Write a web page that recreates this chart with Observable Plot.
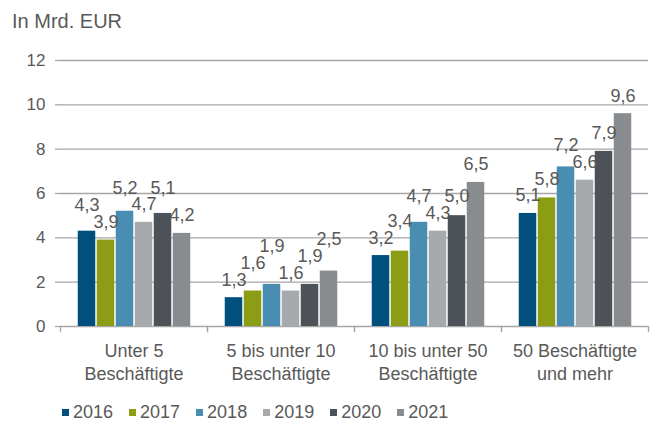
<!DOCTYPE html>
<html><head><meta charset="utf-8">
<script src="https://cdn.jsdelivr.net/npm/d3@7"></script>
<script src="https://cdn.jsdelivr.net/npm/@observablehq/plot@0.6"></script>
<style>
body{margin:0;background:#fff;font-family:"Liberation Sans",Arial,sans-serif;color:#595959;}
#title{height:40px;line-height:42px;font-size:20px;padding-left:12px;}
#legend{padding-left:62px;padding-top:23px;}
.lg-swatches,.lg-swatches-wrap{min-height:0 !important;line-height:18px !important;}
.lg-swatch{margin-right:16px !important;}
.lg-swatch > svg{margin-right:4px !important;}
</style></head><body>
<div id="title">In Mrd. EUR</div>
<div id="chart"></div>
<div id="legend"></div>
<script>
const categories = ["Unter 5\nBeschäftigte", "5 bis unter 10\nBeschäftigte", "10 bis unter 50\nBeschäftigte", "50 Beschäftigte\nund mehr"];
const years = ["2016", "2017", "2018", "2019", "2020", "2021"];
const v2016 = [4.3, 1.3, 3.2, 5.1];
const v2017 = [3.9, 1.6, 3.4, 5.8];
const v2018 = [5.2, 1.9, 4.7, 7.2];
const v2019 = [4.7, 1.6, 4.3, 6.6];
const v2020 = [5.1, 1.9, 5.0, 7.9];
const v2021 = [4.2, 2.5, 6.5, 9.6];
const yTicks = [0, 2, 4, 6, 8, 10, 12];
const colors = ["#004f7c", "#8c9c14", "#4a8db3", "#a7aaac", "#4c5257", "#898c8f"];

const series = [v2016, v2017, v2018, v2019, v2020, v2021];
const rows = [];
categories.forEach((c, ci) => years.forEach((yr, yi) => rows.push({category: c, year: yr, value: series[yi][ci]})));

// simple label collision avoidance (in data units)
const labelOffset = 0.8, labelH = 0.76;
categories.forEach(c => {
  const g = rows.filter(r => r.category === c);
  g.forEach(r => r.ly = r.value + labelOffset);
  for (let pass = 0; pass < 3; pass++) {
    for (let i = 0; i < g.length - 1; i++) {
      const a = g[i], b = g[i + 1];
      if (Math.abs(a.ly - b.ly) < labelH - 1e-9) {
        if (a.value > b.value) a.ly = b.ly + labelH; else b.ly = a.ly + labelH;
      }
    }
  }
});

const chart = Plot.plot({
  width: 651, height: 340,
  marginTop: 20, marginRight: 3, marginBottom: 54, marginLeft: 60,
  style: {fontFamily: "Liberation Sans, Arial, sans-serif", color: "#595959", background: "#fff", overflow: "visible"},
  fx: {domain: categories, padding: 0, label: null},
  x: {domain: years, paddingInner: 0, paddingOuter: 0.8, axis: null},
  y: {domain: [0, 12], label: null},
  color: {domain: years, range: colors},
  marks: [
    Plot.gridY(yTicks, {stroke: "#a6a6a6", strokeOpacity: 1, strokeWidth: 1.3}),
    Plot.axisY(yTicks, {tickSize: 5, tickPadding: 10, stroke: "#a6a6a6", strokeWidth: 1.3, line: true, fontSize: 17, fill: "#595959", label: null}),
    Plot.frame({anchor: "left", insetTop: 266, insetBottom: -5, stroke: "#a6a6a6", strokeWidth: 1.3}),
    Plot.frame({anchor: "right", insetTop: 266, insetBottom: -5, stroke: "#a6a6a6", strokeWidth: 1.3}),
    Plot.barY(rows, {fx: "category", x: "year", y: "value", fill: "year", insetLeft: 0.75, insetRight: 0.75}),
    Plot.text(rows, {fx: "category", x: "year", y: "ly", text: d => d.value.toFixed(1).replace(".", ","), fontSize: 18, fill: "#595959"}),
    Plot.axisFx({anchor: "bottom", tickSize: 0, tickPadding: 14, fontSize: 18, lineHeight: 1.28, label: null, fill: "#595959"})
  ]
});
document.getElementById("chart").appendChild(chart);

const legend = Plot.legend({
  color: {domain: years, range: colors},
  legend: "swatches",
  swatchSize: 7,
  className: "lg",
  style: {fontSize: "18px", fontFamily: "Liberation Sans, Arial, sans-serif", color: "#595959"}
});
document.getElementById("legend").appendChild(legend);
</script>
</body></html>
